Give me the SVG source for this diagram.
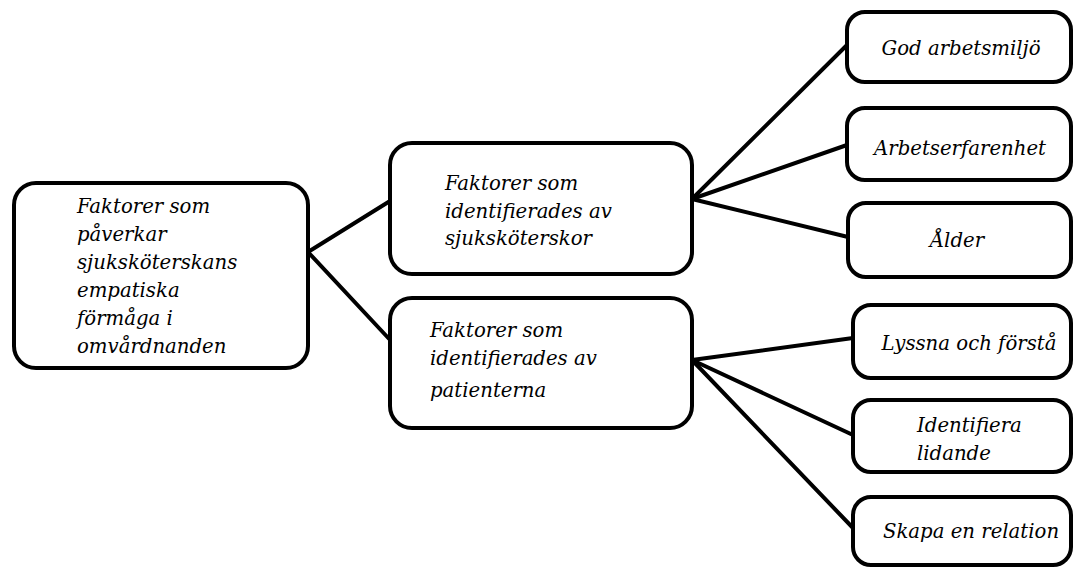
<svg xmlns="http://www.w3.org/2000/svg" width="1075" height="568" viewBox="0 0 1075 568">
<style>
.box{fill:#fff;stroke:#000;stroke-width:4}
.t{font-family:"DejaVu Serif","Liberation Serif",serif;font-style:italic;font-size:19.7px;fill:#000}
.c{text-anchor:middle}
.ln{stroke:#000;stroke-width:4;fill:none;stroke-linecap:round}
</style>
<rect width="1075" height="568" fill="#fff"/>
<g id="connectors">
<line class="ln" x1="308" y1="252" x2="390" y2="201"/>
<line class="ln" x1="308" y1="252" x2="392" y2="342"/>
<line class="ln" x1="692" y1="199" x2="847" y2="45"/>
<line class="ln" x1="692" y1="199" x2="847" y2="145"/>
<line class="ln" x1="692" y1="199" x2="848" y2="237"/>
<line class="ln" x1="692" y1="360" x2="853" y2="338"/>
<line class="ln" x1="692" y1="360" x2="853" y2="435"/>
<line class="ln" x1="692" y1="360" x2="853" y2="528"/>
</g>
<g id="root">
<rect class="box" x="14" y="183" width="294" height="185" rx="22"/>
<text class="t" x="77" y="213">Faktorer som</text>
<text class="t" x="77" y="241">påverkar</text>
<text class="t" x="77" y="269">sjuksköterskans</text>
<text class="t" x="77" y="297">empatiska</text>
<text class="t" x="77" y="325">förmåga i</text>
<text class="t" x="77" y="353">omvårdnanden</text>
</g>
<g id="nurses">
<rect class="box" x="390" y="143" width="302" height="131" rx="22"/>
<text class="t" x="445" y="190">Faktorer som</text>
<text class="t" x="445" y="218">identifierades av</text>
<text class="t" x="445" y="245">sjuksköterskor</text>
</g>
<g id="patients">
<rect class="box" x="390" y="298" width="302" height="130" rx="22"/>
<text class="t" x="430" y="337">Faktorer som</text>
<text class="t" x="430" y="365">identifierades av</text>
<text class="t" x="430" y="397">patienterna</text>
</g>
<g id="n1">
<rect class="box" x="847" y="12" width="224" height="70" rx="18"/>
<text class="t c" x="961" y="55">God arbetsmiljö</text>
</g>
<g id="n2">
<rect class="box" x="847" y="108" width="224" height="72" rx="18"/>
<text class="t c" x="960" y="155">Arbetserfarenhet</text>
</g>
<g id="n3">
<rect class="box" x="848" y="203" width="223" height="74" rx="18"/>
<text class="t c" x="957" y="247">Ålder</text>
</g>
<g id="n4">
<rect class="box" x="853" y="305" width="218" height="73" rx="18"/>
<text class="t c" x="969" y="350">Lyssna och förstå</text>
</g>
<g id="n5">
<rect class="box" x="853" y="400" width="218" height="72" rx="18"/>
<text class="t" x="917" y="432">Identifiera</text>
<text class="t" x="917" y="460">lidande</text>
</g>
<g id="n6">
<rect class="box" x="853" y="497" width="218" height="68" rx="18"/>
<text class="t c" x="971" y="538">Skapa en relation</text>
</g>
</svg>
